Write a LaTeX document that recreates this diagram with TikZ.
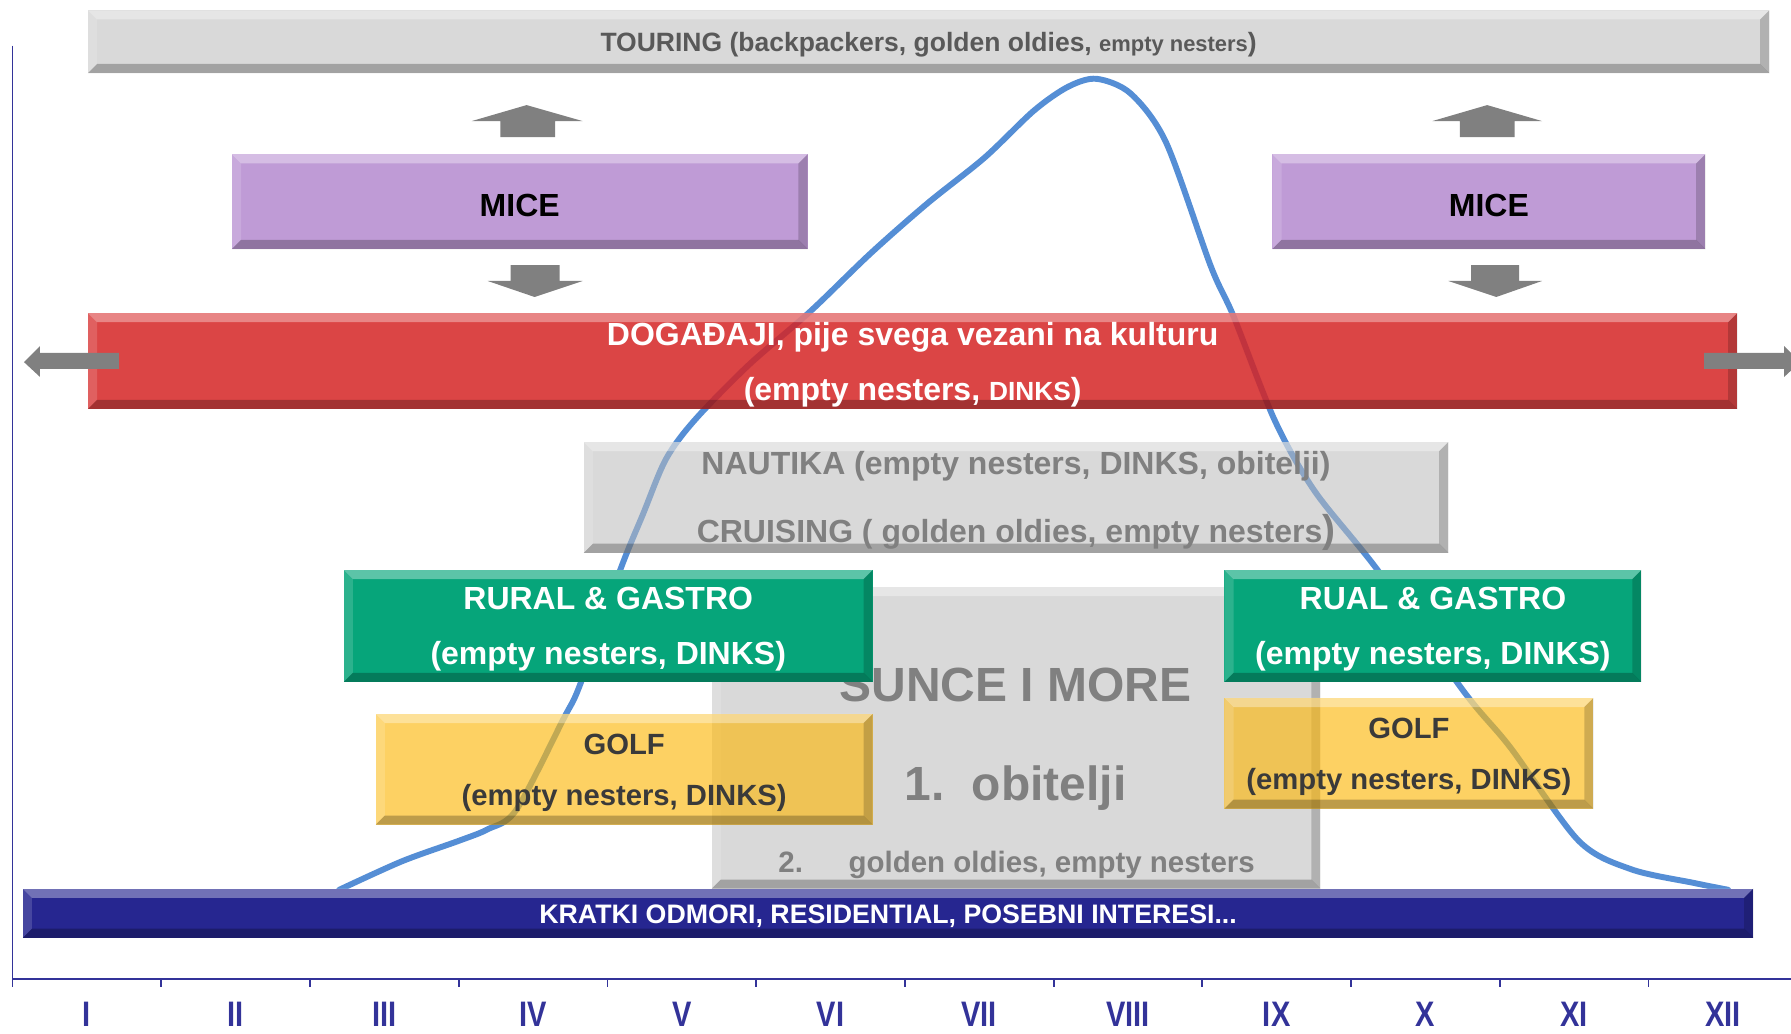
\documentclass[tikz,border=0pt]{standalone}
\usepackage{fontspec}
\setmainfont{Liberation Sans}
\newfontfamily\narrowfont[FakeStretch=0.82]{Liberation Sans}
\newcommand\fsz[2]{\fontsize{#1}{#2}\selectfont}
\definecolor{tourgray}{HTML}{D9D9D9}
\definecolor{txtgray}{HTML}{595959}
\definecolor{midgray}{HTML}{808080}
\definecolor{micepurple}{HTML}{BF9BD6}
\definecolor{arrgray}{HTML}{808080}
\definecolor{dogred}{HTML}{D52424}
\definecolor{nautgray}{HTML}{BABABA}
\definecolor{rurgreen}{HTML}{06A57A}
\definecolor{golfyel}{HTML}{FCB80F}
\definecolor{golftxt}{HTML}{3A3A3A}
\definecolor{kratnavy}{HTML}{262690}
\definecolor{axisnavy}{HTML}{333399}
\definecolor{curveblue}{HTML}{558ED5}
% name, x1, y1, x2, y2, box style, text style, text
\newcommand\mkbox[8]{%
  \pgfmathsetmacro\bw{(#4-#2)*0.5}%
  \pgfmathsetmacro\bh{(#5-#3)*0.5}%
  \node[bevbox,#6,minimum width=\bw pt,minimum height=\bh pt] (#1) at ({(#2+#4)/2},{(#3+#5)/2}) {};
  \node[boxtext,#7] (#1-text) at ([yshift=-1.5pt]#1.center) {#8};}
\begin{document}
\begin{tikzpicture}[x=0.5pt,y=-0.5pt,
  bevbox/.style={inner sep=0pt,outer sep=0pt,
    path picture={
      \path (path picture bounding box.north west) coordinate (bNW)
            (path picture bounding box.north east) coordinate (bNE)
            (path picture bounding box.south west) coordinate (bSW)
            (path picture bounding box.south east) coordinate (bSE);
      \fill[white,fill opacity=.35] (bNW) -- (bNE) -- ([xshift=-4pt,yshift=-4pt]bNE) -- ([xshift=4pt,yshift=-4pt]bNW) -- cycle;
      \fill[white,fill opacity=.15] (bNW) -- ([xshift=4pt,yshift=-4pt]bNW) -- ([xshift=4pt,yshift=4pt]bSW) -- (bSW) -- cycle;
      \fill[black,fill opacity=.18] (bNE) -- ([xshift=-4pt,yshift=-4pt]bNE) -- ([xshift=-4pt,yshift=4pt]bSE) -- (bSE) -- cycle;
      \fill[black,fill opacity=.25] (bSW) -- ([xshift=4pt,yshift=4pt]bSW) -- ([xshift=-4pt,yshift=4pt]bSE) -- (bSE) -- cycle;
    }},
  boxtext/.style={inner sep=0pt,align=center},
  axisline/.style={draw=axisnavy,line width=0.8pt},
  month/.style={text=axisnavy,font=\narrowfont\bfseries\fsz{15.5}{16}},
  curve/.style={draw=curveblue,line width=2.6pt,line cap=round},
  blockarrow/.style={fill=arrgray}
]
\useasboundingbox (0,0) rectangle (1568,905);
\clip (0,0) rectangle (1568,905);

% axes
\draw[axisline] (11,40) -- (11,857) -- (1568,857);
\foreach \k in {0,...,12} \draw[axisline] ({11+130.2*\k},857) -- ++(0,7);
\foreach \m [count=\k] in {I,II,III,IV,V,VI,VII,VIII,IX,X,XI,XII}
  \node[month] (m\k) at ({11+130.2*(\k-0.5)},888) {\m};

% season curve
\draw[curve] plot[smooth,tension=0.5] coordinates {
 (297,779) (352,754) (402,736) (427,726) (452,709) (493,630) (508,599) (543,499)
 (563,450) (583,402) (608,368) (655,320) (709,273) (762,222) (812,178) (862,138)
 (905,97) (935,76) (960,69) (990,82) (1021,125) (1060,233) (1080,277) (1116,368) (1151,430)
 (1206,499) (1282,606) (1322,654) (1382,736) (1428,761) (1483,773) (1513,779)};

% boxes
\mkbox{tour}{77}{9}{1549}{64}{fill=tourgray}{text=txtgray,font=\bfseries\fsz{11.6}{14}}
  {TOURING (backpackers, golden oldies, {\fsz{9.6}{12}empty nesters})}
\mkbox{miceL}{203}{135}{707}{218}{fill=micepurple}{text=black,font=\bfseries\fsz{14}{15}}{MICE}
\mkbox{miceR}{1114}{135}{1493}{218}{fill=micepurple}{text=black,font=\bfseries\fsz{14}{15}}{MICE}

% MICE arrows
\fill[blockarrow] (438,120) -- (438,106) -- (413,106) -- (461,92) -- (510,106) -- (486,106) -- (486,120) -- cycle;
\fill[blockarrow] (447,232) -- (490,232) -- (490,246) -- (510,246) -- (468,260) -- (427,246) -- (447,246) -- cycle;
\fill[blockarrow] (1278,120) -- (1278,106) -- (1254,106) -- (1302,92) -- (1350,106) -- (1326,106) -- (1326,120) -- cycle;
\fill[blockarrow] (1288,232) -- (1330,232) -- (1330,246) -- (1350,246) -- (1310,260) -- (1268,246) -- (1288,246) -- cycle;

\mkbox{dog}{77}{274}{1521}{358}{fill=dogred,fill opacity=.85}{text=white,font=\bfseries\fsz{14}{24}}
  {DOGAĐAJI, pije svega vezani na kulturu\\(empty nesters, {\fsz{11.5}{24}DINKS})}

% side arrows of DOGADJAJI
\fill[blockarrow] (104,309) -- (35,309) -- (35,303) -- (21,317) -- (35,330) -- (35,323) -- (104,323) -- cycle;
\fill[blockarrow] (1492,309) -- (1562,309) -- (1562,303) -- (1576,317) -- (1562,330) -- (1562,323) -- (1492,323) -- cycle;

\mkbox{naut}{511}{387}{1268}{484}{fill=nautgray,fill opacity=.55}{text=midgray,font=\bfseries\fsz{14}{30}}
  {NAUTIKA (empty nesters, DINKS, obitelji)\\CRUISING ( golden oldies, empty nesters{\fsz{17}{30})}}

\node[bevbox,fill=tourgray,minimum width=266.5pt,minimum height=132pt] (sun) at (889.5,646) {};
\node[text=midgray,font=\bfseries\fsz{21}{22}] (sunA) at (889,600) {SUNCE I MORE};
\node[text=midgray,font=\bfseries\fsz{21}{22}] (sunB) at (889,690) {1.\hspace{12pt}obitelji};
\node[text=midgray,font=\bfseries\fsz{12.9}{14}] (sunC) at (890,757) {2.\hspace{20pt}golden oldies, empty nesters};

\mkbox{rurL}{301}{499}{764}{597}{fill=rurgreen}{text=white,font=\bfseries\fsz{14}{24}}
  {RURAL \& GASTRO\\(empty nesters, DINKS)}
\mkbox{rurR}{1072}{499}{1437}{597}{fill=rurgreen}{text=white,font=\bfseries\fsz{14}{24}}
  {RUAL \& GASTRO\\(empty nesters, DINKS)}

\mkbox{golfL}{329}{625}{764}{722}{fill=golfyel,fill opacity=.65}{text=golftxt,font=\bfseries\fsz{12.8}{22}}
  {GOLF\\(empty nesters, DINKS)}
\mkbox{golfR}{1072}{611}{1395}{708}{fill=golfyel,fill opacity=.65}{text=golftxt,font=\bfseries\fsz{12.8}{22}}
  {GOLF\\(empty nesters, DINKS)}

\mkbox{krat}{20}{778}{1535}{821}{fill=kratnavy}{text=white,font=\bfseries\fsz{11.7}{13}}
  {KRATKI ODMORI, RESIDENTIAL, POSEBNI INTERESI...}
\end{tikzpicture}
\end{document}
